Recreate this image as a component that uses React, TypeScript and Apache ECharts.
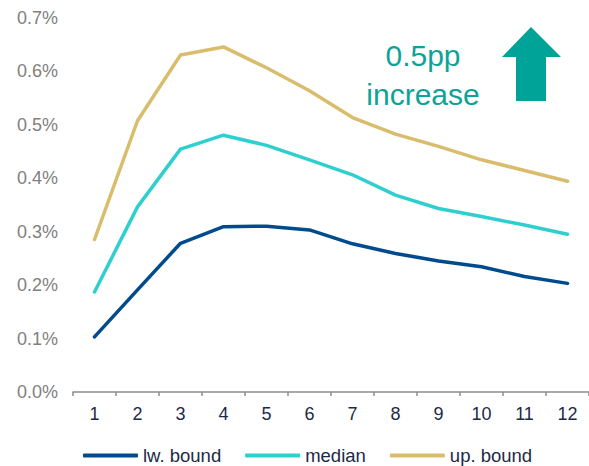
import React, { useEffect, useRef } from "react";
import * as echarts from "echarts";

const categories = ["1", "2", "3", "4", "5", "6", "7", "8", "9", "10", "11", "12"];
const lwBound = [0.103, 0.191, 0.278, 0.309, 0.310, 0.303, 0.277, 0.259, 0.245, 0.234, 0.216, 0.203];
const median = [0.187, 0.346, 0.454, 0.480, 0.461, 0.434, 0.406, 0.368, 0.343, 0.328, 0.312, 0.295];
const upBound = [0.285, 0.507, 0.630, 0.645, 0.606, 0.563, 0.513, 0.482, 0.459, 0.434, 0.414, 0.394];
const seriesNames = ["lw. bound", "median", "up. bound"];
const annotation = "0.5pp\nincrease";

const FONT = "'Liberation Sans', Arial, sans-serif";

export default function App() {
  const ref = useRef<HTMLDivElement>(null);
  useEffect(() => {
    if (!ref.current) return;
    const chart = echarts.init(ref.current, null, { renderer: "svg" });
    const lineSeries = (name: string, data: number[], color: string) => ({
      name,
      type: "line",
      data,
      symbol: "none",
      lineStyle: { color, width: 3.5, cap: "round", join: "round" },
      itemStyle: { color },
    });
    chart.setOption({
      animation: false,
      backgroundColor: "#ffffff",
      textStyle: { fontFamily: FONT },
      grid: { left: 73, right: 0, top: 17.5, bottom: 74, containLabel: false },
      xAxis: {
        type: "category",
        data: categories,
        boundaryGap: true,
        axisLine: { show: true, lineStyle: { color: "#8c8c8c", width: 1.5 } },
        axisTick: { show: true, length: 4, lineStyle: { color: "#8c8c8c", width: 1.5 } },
        axisLabel: { color: "#1c2a48", fontSize: 18, margin: 13, fontFamily: FONT },
        splitLine: { show: false },
      },
      yAxis: {
        type: "value",
        min: 0,
        max: 0.7,
        interval: 0.1,
        axisLine: { show: false },
        axisTick: { show: false },
        splitLine: { show: false },
        axisLabel: {
          color: "#808080",
          fontSize: 18,
          margin: 15,
          fontFamily: FONT,
          formatter: (v: number) => `${v.toFixed(1)}%`,
        },
      },
      legend: {
        data: seriesNames,
        left: 83,
        top: 446,
        padding: 0,
        icon: "roundRect",
        itemWidth: 55,
        itemHeight: 4,
        itemGap: 24,
        textStyle: { color: "#1c2a48", fontSize: 18.5, fontFamily: FONT },
      },
      series: [
        lineSeries(seriesNames[0], lwBound, "#004b8d"),
        lineSeries(seriesNames[1], median, "#2fcfcf"),
        lineSeries(seriesNames[2], upBound, "#d9bd6c"),
      ],
      graphic: [
        {
          type: "text",
          x: 423,
          y: 75,
          style: {
            text: annotation,
            fill: "#0ea398",
            font: `30px ${FONT}`,
            align: "center",
            verticalAlign: "middle",
            lineHeight: 39,
          },
        },
        {
          type: "polygon",
          shape: {
            points: [
              [531, 27],
              [561, 57],
              [546, 57],
              [546, 101],
              [516, 101],
              [516, 57],
              [502, 57],
            ],
          },
          style: { fill: "#00a398" },
        },
      ],
    });
    return () => chart.dispose();
  }, []);
  return (
    <div
      ref={ref}
      style={{ position: "fixed", left: 0, top: 0, width: 589, height: 466 }}
    />
  );
}
